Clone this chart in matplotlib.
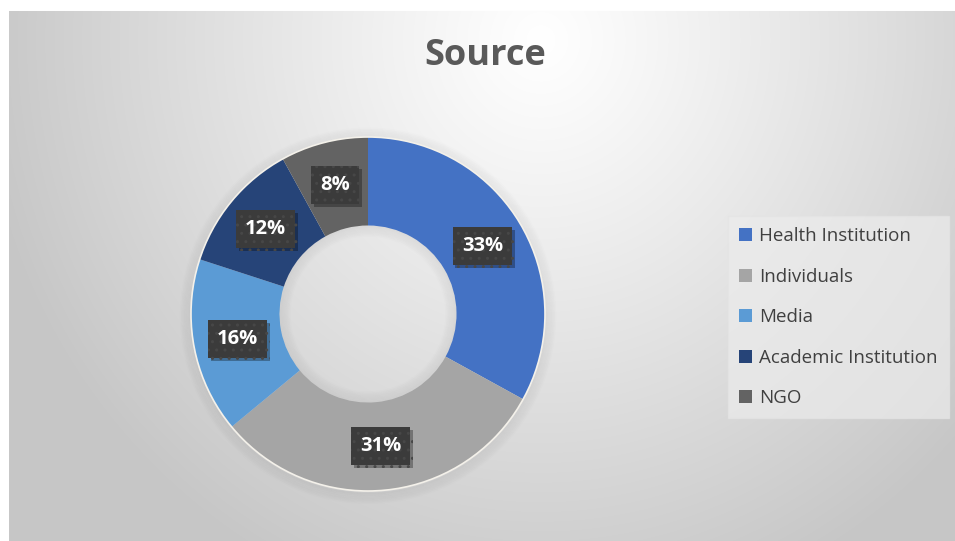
import numpy as np
import matplotlib
matplotlib.use("Agg")
from matplotlib import pyplot as plt
from matplotlib.patches import Patch
import matplotlib.patheffects as pe

plt.rcParams["font.family"] = ["Open Sans", "DejaVu Sans"]

# share of items by source
labels = ["Health Institution", "Individuals", "Media", "Academic Institution", "NGO"]
shares = [33, 31, 16, 12, 8]
colors = ["#4472C4", "#A5A5A5", "#5B9BD5", "#264478", "#636363"]

W, H = 955, 541
fig = plt.figure(figsize=(W / 100, H / 100), dpi=100)

# light radial gradient panel behind everything, white strip on top/left
bg = fig.add_axes([0, 0, 1, 1], zorder=-10)
yy, xx = np.mgrid[0:H, 0:W]
d = np.hypot(xx - 540, (yy - 40) / 1.05)
v = 1.0 - 0.22 * np.clip(d / 560, 0, 1) ** 1.1
v[(xx < 9) | (yy < 11)] = 1.0
bg.imshow(np.dstack([v, v, v]), aspect="auto", interpolation="bilinear")
bg.axis("off")

# donut
cx, cy, R = 368, 314, 177
ax = fig.add_axes([(cx - R) / W, (H - cy - R) / H, 2 * R / W, 2 * R / H])
ax.axis("off")

# soft shadow around the ring and inside the hole
for k in range(8):
    a = 0.03 - 0.003 * k
    ax.add_patch(plt.Circle((0.0, -0.01), 1.0 + 0.008 * k, fill=False, lw=2,
                            ec="black", alpha=a, zorder=0, clip_on=False))
    ax.add_patch(plt.Circle((0.0, 0.0), 0.5 - 0.008 * k, fill=False, lw=2,
                            ec="black", alpha=a, zorder=0, clip_on=False))

wedges, _ = ax.pie(shares, colors=colors, startangle=90, counterclock=False,
                   radius=1.0, wedgeprops=dict(width=0.5, edgecolor="none"))
for w in wedges:
    w.set_clip_on(False)
ax.add_patch(plt.Circle((0, 0), 1.0, fill=False, lw=1.2, ec="#f4f1ea",
                        zorder=5, clip_on=False))
ax.set_xlim(-1, 1)
ax.set_ylim(-1, 1)

# percentage tags in the middle of the ring
for w, s in zip(wedges, shares):
    ang = np.deg2rad((w.theta1 + w.theta2) / 2)
    x, y = 0.75 * np.cos(ang), 0.75 * np.sin(ang)
    t = ax.text(x, y, f"{s}%", ha="center", va="center", fontsize=14.5,
                fontweight="bold", color="white", zorder=7,
                bbox=dict(boxstyle="square,pad=0.45", fc="#3b3b3b", ec="#474747",
                          hatch="..", lw=0))
    t.get_bbox_patch().set_path_effects([
        pe.SimplePatchShadow(offset=(2, -2), shadow_rgbFace="black", alpha=0.3),
        pe.Normal()])

fig.text(485 / W, 1 - 56 / H, "Source", ha="center", va="center",
         fontsize=26, fontweight="bold", color="#595959")

handles = [Patch(facecolor=c, edgecolor="none") for c in colors]
leg = fig.legend(handles, labels, loc="upper left",
                 bbox_to_anchor=(728 / W, 1 - 216 / H), borderaxespad=0,
                 frameon=True, fontsize=13.5, handlelength=0.7,
                 handleheight=0.7, handletextpad=0.35, labelspacing=1.2,
                 borderpad=0.6, fancybox=False, labelcolor="#404040")
leg.get_frame().set_facecolor("#ececec")
leg.get_frame().set_edgecolor("#e4e4e4")
leg.get_frame().set_alpha(0.7)

fig.savefig("out.png", dpi=100)
